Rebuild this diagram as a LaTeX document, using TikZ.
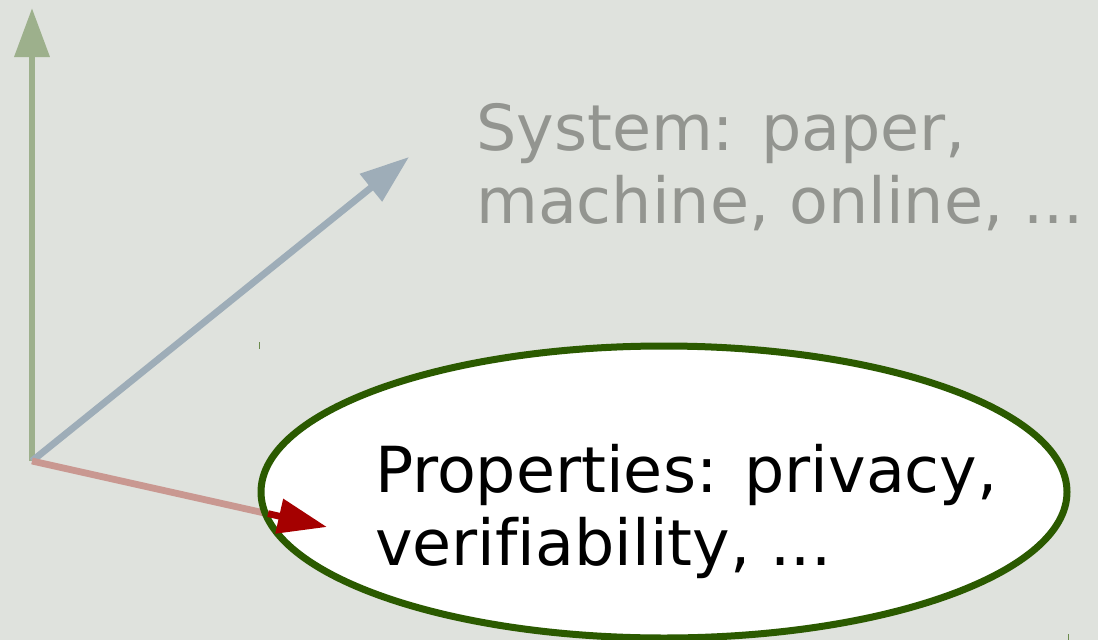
\documentclass[tikz,border=0pt]{standalone}
\usepackage{fontspec}
\setmainfont{DejaVu Sans}[Ligatures=NoCommon]
\usetikzlibrary{arrows.meta,shapes.geometric}

\definecolor{bgpaper}{HTML}{DFE2DD}
\definecolor{axisgreen}{HTML}{9DB08C}
\definecolor{axisblue}{HTML}{9EADB8}
\definecolor{axispink}{HTML}{C99891}
\definecolor{axisred}{HTML}{A50000}
\definecolor{rimgreen}{HTML}{2B5A00}
\definecolor{labelgray}{HTML}{939590}

\tikzset{
  axis/.style={line width=6.8pt},
  bigtip/.style={-{Triangle[length=49pt,width=34pt]}},
  % base west of a two-line label sits on the baseline of its last line
  label/.style={font=\fontsize{63.5}{73}\selectfont, align=left, inner sep=0pt, anchor=base west},
  tick/.style={rimgreen!70, line width=1pt},
}

\begin{document}
\begin{tikzpicture}[x=1pt,y=-1pt]
  % canvas
  \fill[bgpaper] (0,0) rectangle (1098,640);
  \useasboundingbox (0,0) rectangle (1098,640);

  % shared origin and axis ends
  \coordinate (o) at (32,461);
  \coordinate (up) at (32,8);
  \coordinate (sys) at (409,157);
  \coordinate (prop) at (327,527);
  \coordinate (propin) at (268,513.6);

  % three axes
  \draw[axis, axisgreen, bigtip] (o) -- (up);
  \draw[axis, axisblue, bigtip] (o) -- (sys);
  \draw[axis, axispink] (o) -- (prop);

  % system label
  \node[label, text=labelgray] (systxt) at (476,223) {System: paper,\\machine, online, ...};

  % properties ellipse
  \node[ellipse, draw=rimgreen, fill=white, line width=7pt,
        minimum width=806pt, minimum height=292pt, inner sep=0pt] (props) at (664,492) {};
  \node[label, text=black] (proptxt) at (375,565) {Properties: privacy,\\verifiability, ...};

  % highlighted tip of the properties axis
  \draw[axis, axisred, bigtip] (propin) -- (prop);

  % small marks
  \coordinate (m1a) at (259,342); \coordinate (m1b) at (259,349);
  \coordinate (m2a) at (1068,634); \coordinate (m2b) at (1068,640);
  \draw[tick] (m1a) -- (m1b);
  \draw[tick] (m2a) -- (m2b);
\end{tikzpicture}
\end{document}
